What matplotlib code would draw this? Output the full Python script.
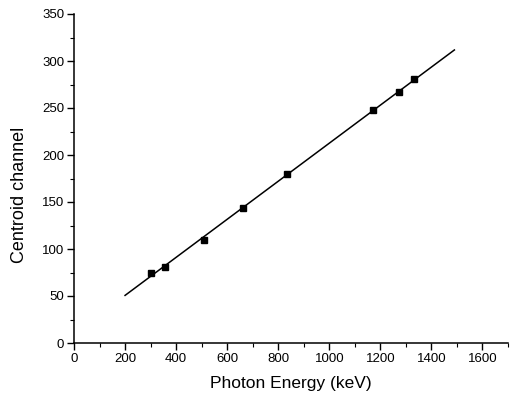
import numpy as np
import matplotlib
matplotlib.use("Agg")
import matplotlib.pyplot as plt
from matplotlib.ticker import MultipleLocator

# ============================================================
# DATOS
# ============================================================

# Energias de los fotopicos (keV) y canal del centroide
energy_kev = [302, 356, 511, 662, 835, 1173, 1275, 1332]
centroid_ch = [75, 81, 110, 144, 180, 248, 267, 281]

# Rango de la recta de calibracion
fit_range = [200, 1490]

plt.rcParams["font.family"] = ["Liberation Sans Narrow", "Liberation Sans", "DejaVu Sans"]

# ============================================================
# FIGURA
# ============================================================

fig = plt.figure(figsize=(5.13, 3.97), dpi=100)
ax = fig.add_axes([74 / 513, 54 / 397, 434 / 513, 329 / 397])

# ajuste lineal a los puntos
slope, intercept = np.polyfit(energy_kev, centroid_ch, 1)
xfit = np.array(fit_range)
ax.plot(xfit, slope * xfit + intercept, color="black", linewidth=1.1)

ax.plot(energy_kev, centroid_ch, linestyle="none", marker="s",
        markersize=4.5, color="black")

ax.set_xlim(0, 1700)
ax.set_ylim(0, 350)
ax.xaxis.set_major_locator(MultipleLocator(200))
ax.xaxis.set_minor_locator(MultipleLocator(100))
ax.yaxis.set_major_locator(MultipleLocator(50))
ax.yaxis.set_minor_locator(MultipleLocator(25))

for side in ["top", "right"]:
    ax.spines[side].set_visible(False)
for side in ["left", "bottom"]:
    ax.spines[side].set_linewidth(1.1)

ax.tick_params(which="major", direction="out", length=5, width=1, labelsize=9.5, pad=2)
ax.tick_params(which="minor", direction="out", length=3, width=0.8)

ax.set_xlabel("Photon Energy (keV)", fontsize=12.5, labelpad=8)
ax.set_ylabel("Centroid channel", fontsize=13)
ax.yaxis.set_label_coords(-0.106, 0.45)

fig.savefig("out.png", dpi=100)
